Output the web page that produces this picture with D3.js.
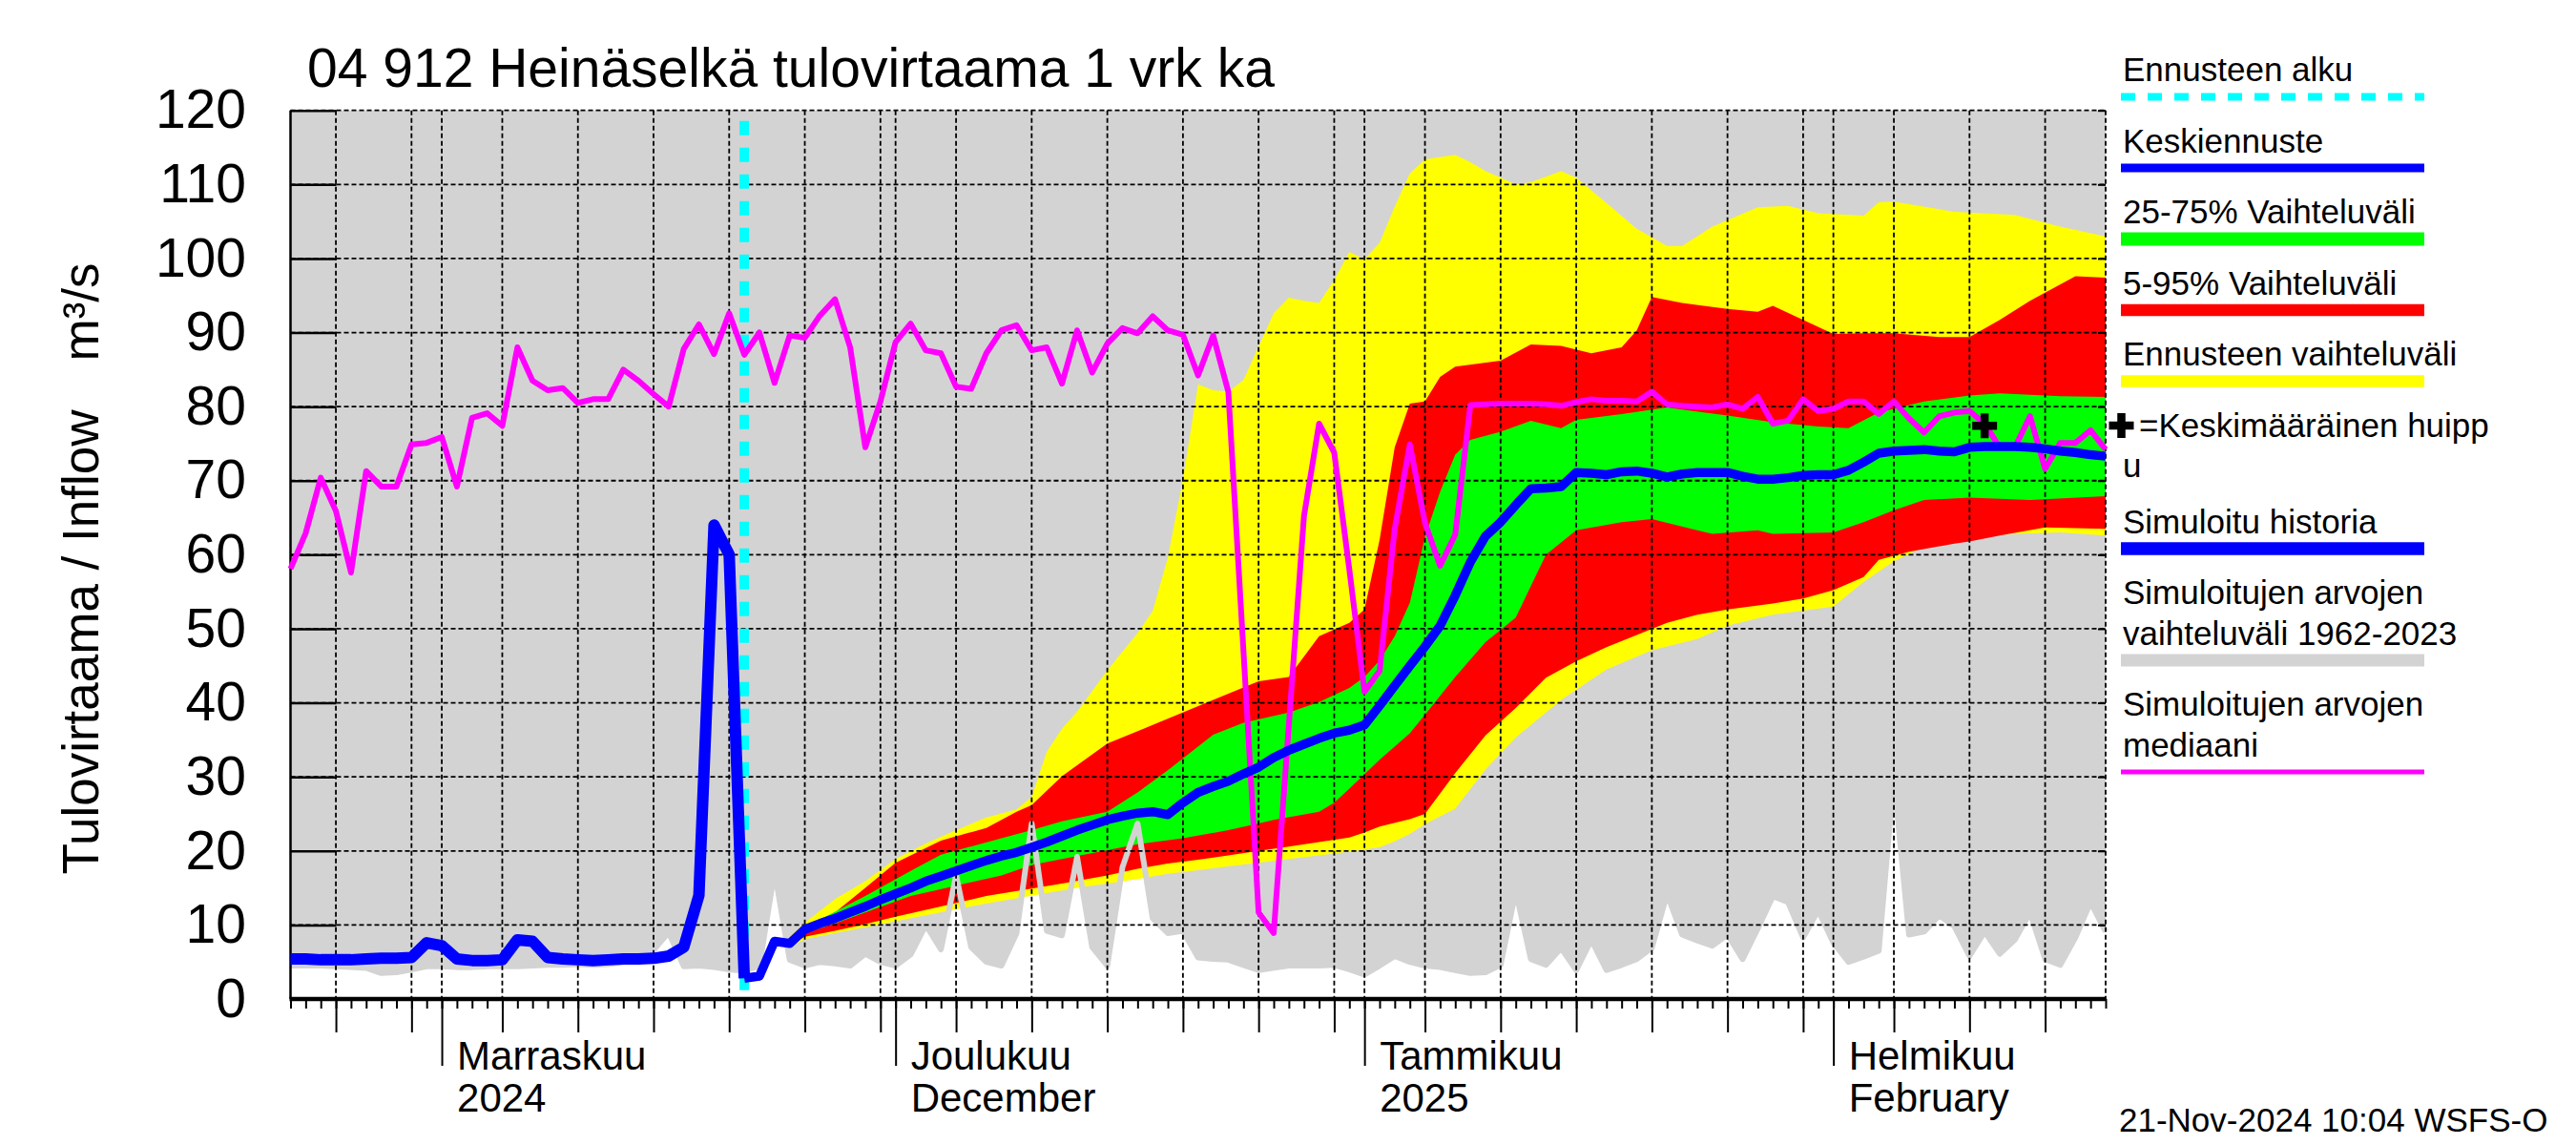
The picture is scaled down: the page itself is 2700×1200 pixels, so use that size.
<!DOCTYPE html>
<html>
<head>
<meta charset="utf-8">
<script src="https://cdn.jsdelivr.net/npm/d3@7"></script>
<style>
  body { margin: 0; background: #fff; }
  svg { display: block; }
  text { font-family: "Liberation Sans", Arial, Helvetica, sans-serif; fill: #000; }
</style>
</head>
<body>
<svg id="chart" width="2700" height="1200"></svg>
<script>
(function(){
	'use strict';

	// ---- data (daily values, m3/s) ----
	var historyStart = Date.UTC(2024, 9, 22);   // 22.10.2024 = day 0
	var forecastStart = Date.UTC(2024, 10, 21); // 21.11.2024 = day 30
	var axisEnd = Date.UTC(2025, 1, 19);        // day 120

	// Simuloitu historia, day 0..30
	var historyFlow = [5.4, 5.4, 5.3, 5.3, 5.3, 5.4, 5.5, 5.5, 5.6, 7.6,
		7.2, 5.4, 5.2, 5.2, 5.3, 8.0, 7.8, 5.6, 5.4, 5.3,
		5.2, 5.3, 5.4, 5.4, 5.5, 5.8, 7.0, 14, 64, 60, 2.8];

	// Keskiennuste, day 30..120
	var forecastMedian = [2.8, 3.1, 7.8, 7.5, 9.4, 10.2, 10.9, 11.7, 12.5, 13.4,
		14.2, 15.0, 15.9, 16.6, 17.3, 18.0, 18.7, 19.3, 19.8, 20.5,
		21.2, 22.0, 22.8, 23.5, 24.2, 24.7, 25.1, 25.3, 24.9, 26.5,
		27.9, 28.7, 29.4, 30.4, 31.3, 32.6, 33.6, 34.4, 35.2, 35.9,
		36.3, 37.0, 39.6, 42.3, 45.0, 47.6, 50.4, 54.5, 59.0, 62.5,
		64.4, 66.7, 68.9, 69.0, 69.2, 71.1, 71.0, 70.8, 71.2, 71.3,
		71.0, 70.5, 70.9, 71.1, 71.1, 71.1, 70.6, 70.2, 70.2, 70.4,
		70.7, 70.8, 70.8, 71.4, 72.5, 73.7, 74.0, 74.1, 74.2, 74.0,
		73.9, 74.5, 74.6, 74.6, 74.6, 74.5, 74.3, 74.0, 73.8, 73.5, 73.3];

	// Simuloitujen arvojen mediaani, day 0..120
	var simMedian = [58.1, 62.9, 70.4, 65.9, 57.6, 71.3, 69.2, 69.2, 74.9, 75.1,
		75.9, 69.2, 78.5, 79.1, 77.4, 88, 83.5, 82.2, 82.5, 80.5,
		81, 81, 85, 83.5, 81.7, 80, 87.8, 91.1, 87.1, 92.6,
		87, 90, 83.2, 89.6, 89.3, 92.3, 94.5, 88, 74.5, 80.7,
		88.7, 91.2, 87.6, 87.2, 82.7, 82.4, 87.2, 90.3, 91, 87.6,
		88, 83.1, 90.3, 84.6, 88.5, 90.6, 89.9, 92.2, 90.3, 89.7,
		84.2, 89.6, 82, 47, 11.7, 8.9, 37, 65.2, 77.7, 73.8,
		58, 41.5, 44.3, 63.5, 74.9, 64.3, 58.5, 62.7, 80.2, 80.3,
		80.4, 80.4, 80.4, 80.3, 80.1, 80.6, 81, 80.8, 80.8, 80.7,
		82, 80.3, 80.1, 80, 79.9, 80.3, 79.7, 81.3, 77.7, 78.1,
		81, 79.4, 79.7, 80.7, 80.7, 79, 80.7, 78.4, 76.5, 78.7,
		79.2, 79.4, 77.7, 74.5, 74.5, 78.7, 71.6, 75.1, 75.1, 76.8, 74.2];

	// lower edge of simulated range 1962-2023, day 0..120 (upper edge is above the chart)
	var simMin = [4.5, 4.5, 4.5, 4.4, 4.3, 4.2, 3.5, 3.6, 4.0, 4.4,
		4.4, 4.3, 4.3, 4.4, 4.4, 4.4, 4.5, 4.6, 4.6, 4.7,
		4.6, 4.7, 5.0, 5.5, 6.6, 9.0, 4.4, 4.5, 4.3, 4.0,
		3.8, 4.5, 17.3, 5.3, 4.5, 5.0, 4.8, 4.5, 6.1, 5.0,
		4.5, 6.0, 10.0, 6.7, 16.7, 7.0, 5.0, 4.5, 8.9, 23.7,
		9.2, 8.6, 19.2, 7.0, 4.5, 17.8, 23.7, 10.9, 8.9, 9.2,
		5.6, 5.4, 5.3, 4.6, 3.9, 4.2, 4.5, 4.5, 4.5, 4.6,
		4.0, 3.3, 4.5, 5.8, 5.0, 4.5, 4.3, 3.9, 3.5, 3.6,
		4.6, 14.6, 5.4, 4.6, 6.9, 3.9, 8.0, 3.9, 4.6, 5.4,
		6.9, 14.2, 8.7, 7.9, 7.2, 8.7, 5.4, 9.5, 13.9, 13.1,
		8.3, 12.0, 7.6, 5.0, 5.7, 6.5, 30, 8.7, 9.1, 11.3,
		9.8, 5.8, 9.1, 6.1, 8.0, 11.7, 5.4, 4.6, 8.3, 13.1, 9.1];

	// forecast bands as [day, value]
	var rangeUpper = [[30,2.8],[31,3.1],[32,7.8],[33,8.4],[34,10.3],[36,13.5],[38,15.9],[40,18.9],[42,21.0],
		[44,22.8],[46,24.5],[48,25.6],[49,27.3],[50,33.4],[51,36.5],[52,38.8],[54,44.4],[56,49.4],[57,52.4],
		[58,59.6],[59,70.2],[60,83],[61,82.2],[62,82],[63,83.6],[64,88.1],[65,92.6],[66,94.7],[67,94.3],
		[68,94],[69,97.1],[70,100.9],[71,99.9],[72,102.1],[73,107],[74,111.5],[75,113.4],[77,114],[78,113],
		[79,111.8],[81,110],[82,110.3],[84,111.8],[85,110.9],[87,107.5],[89,104],[91,101.7],[92,101.7],
		[94,104.3],[97,106.9],[99,107.1],[101,106.1],[104,105.8],[105,107.6],[106,107.7],[110,106.3],
		[114,105.9],[117,104.3],[120,103]];
	var rangeLower = [[30,2.8],[31,3.1],[32,7.8],[33,7.0],[34,8.1],[36,8.9],[38,9.7],[40,10.5],[42,11.3],
		[44,12.1],[46,12.9],[48,13.6],[50,14.3],[52,15.0],[54,15.6],[56,16.2],[58,16.9],[60,17.4],[62,17.9],
		[64,18.4],[66,18.9],[68,19.4],[70,19.9],[72,20.5],[73,21.3],[74,22.3],[75,23.6],[77,25.7],[79,31],
		[81,35.3],[84,40.4],[87,44.5],[90,47.1],[93,48.6],[95,50.4],[98,51.9],[102,53],[104,56.3],[106,59.1],
		[108,61.1],[111,62.4],[114,62.8],[117,63],[120,62.6]];
	var p95 = [[30,2.8],[31,3.1],[32,7.8],[33,8.2],[34,9.8],[36,11.7],[38,15.0],[40,18.4],[43,21.4],[46,23.1],
		[48,25.3],[49,26.2],[51,30.1],[54,34.5],[57,37],[61,40.4],[64,42.9],[66,43.5],[68,49],[70,50.8],
		[71,52.6],[72,62],[73,74.5],[74,80.4],[75,80.7],[76,84],[77,85.4],[80,86.2],[82,88.4],[84,88.2],
		[86,87.2],[88,88],[89,90.3],[90,94.8],[92,94],[95,93.2],[97,92.8],[98,93.6],[100,91.7],[102,89.8],
		[104,89.9],[106,89.9],[109,89.4],[111,89.4],[113,91.7],[115,94.3],[118,97.6],[120,97.4]];
	var p05 = [[30,2.8],[31,3.1],[32,7.8],[33,7.2],[34,8.4],[36,9.2],[38,10.1],[40,11.1],[43,12.5],[46,13.9],
		[49,14.9],[51,15.6],[54,16.7],[56,17.6],[58,18.3],[60,18.8],[62,19.4],[64,20.0],[66,20.6],[68,21.2],
		[70,21.8],[71,22.5],[72,23.3],[74,24.3],[75,25.0],[77,30.5],[79,35.6],[81,39.3],[83,43.4],[85,45.6],
		[87,47.5],[91,50.8],[93,51.9],[95,52.6],[98,53.4],[100,54.1],[102,55.2],[104,57],[105,59.3],
		[107,60.4],[110,61.5],[111,61.8],[113,62.6],[116,63.7],[120,63.5]];
	var p75 = [[30,2.8],[31,3.1],[32,7.8],[33,7.9],[34,9.6],[36,11.8],[38,13.9],[41,17.3],[43,19.5],[47,21.7],
		[49,22.8],[51,24],[54,25.3],[56,27.9],[58,30.9],[61,35.7],[63,37.3],[66,38.7],[68,40.1],[70,42],
		[71,43.5],[72,45.7],[73,49],[74,53.5],[75,62.4],[76,68.5],[77,73.5],[78,75.5],[80,76.6],[82,78.1],
		[84,77.1],[85,78.2],[88,79],[91,79.9],[92,79.6],[95,78.8],[98,77.9],[101,77.3],[103,77.1],[105,79.2],
		[108,80.7],[111,81.5],[113,81.8],[117,81.4],[120,81.3]];
	var p25 = [[30,2.8],[31,3.1],[32,7.8],[33,7.4],[34,8.9],[36,10.2],[38,11.7],[41,13.9],[44,15.3],[47,16.7],
		[49,18.1],[51,18.9],[54,20.1],[56,20.9],[59,21.7],[62,22.8],[64,23.7],[65,24.2],[68,25.3],[69,26.5],
		[70,28.4],[72,32.3],[74,35.9],[75,38.4],[77,43.5],[79,48.2],[81,51.5],[83,60],[85,63.3],[88,64.4],
		[90,64.8],[94,62.8],[97,63.3],[98,62.8],[102,63],[104,64.4],[106,66],[108,67.4],[111,67.7],[115,67.4],
		[120,67.9]];

	// Keskimääräinen huippu: [day, value]
	var meanPeak = [112, 77.4];

	var yTicks = [0, 10, 20, 30, 40, 50, 60, 70, 80, 90, 100, 110, 120];
	var monthLabels = [
		{ date: Date.UTC(2024, 10, 1), lines: ['Marraskuu', '2024'] },
		{ date: Date.UTC(2024, 11, 1), lines: ['Joulukuu', 'December'] },
		{ date: Date.UTC(2025, 0, 1), lines: ['Tammikuu', '2025'] },
		{ date: Date.UTC(2025, 1, 1), lines: ['Helmikuu', 'February'] }
	];
	var titleText = '04 912 Heinäselkä tulovirtaama 1 vrk ka';
	var stampText = '21-Nov-2024 10:04 WSFS-O';
	var legendItems = [
		{ lines: ['Ennusteen alku'], color: '#00ffff', width: 8, dash: '15,13' },
		{ lines: ['Keskiennuste'], color: '#0000ff', width: 9 },
		{ lines: ['25-75% Vaihteluväli'], color: '#00ff00', width: 14 },
		{ lines: ['5-95% Vaihteluväli'], color: '#ff0000', width: 12.5 },
		{ lines: ['Ennusteen vaihteluväli'], color: '#ffff00', width: 12.5 },
		{ lines: ['=Keskimääräinen huipp', 'u'], plus: true },
		{ lines: ['Simuloitu historia'], color: '#0000ff', width: 13.5 },
		{ lines: ['Simuloitujen arvojen', 'vaihteluväli 1962-2023'], color: '#d3d3d3', width: 13 },
		{ lines: ['Simuloitujen arvojen', 'mediaani'], color: '#ff00ff', width: 5 }
	];

	// ---- layout ----
	var plotL = 304.5, plotR = 2207, plotT = 115.7, plotB = 1047;
	var grey = '#d3d3d3';

	var svg = d3.select('#chart');
	var x = d3.scaleUtc().domain([historyStart, axisEnd]).range([plotL, plotR]);
	var y = d3.scaleLinear().domain([0, 120]).range([plotB, plotT]);

	function dayDate(start, i){ return d3.utcDay.offset(new Date(start), i); }

	var lineFrom = function(start){
		return d3.line()
			.x(function(d, i){ return x(dayDate(start, i)); })
			.y(function(d){ return y(d); });
	};
	var pairLine = d3.line()
		.x(function(d){ return x(dayDate(historyStart, d[0])); })
		.y(function(d){ return y(d[1]); });

	// simulated range: grey everywhere above its lower edge
	svg.append('rect')
		.attr('x', plotL).attr('y', plotT)
		.attr('width', plotR - plotL).attr('height', plotB - plotT)
		.attr('fill', grey);

	svg.append('path')
		.datum(simMin)
		.attr('d', d3.area()
			.x(function(d, i){ return x(dayDate(historyStart, i)); })
			.y0(y(0))
			.y1(function(d){ return y(d); }))
		.attr('fill', '#fff');

	function band(upper, lower, color){
		var pts = upper.concat(lower.slice().reverse());
		svg.append('path').attr('d', pairLine(pts) + 'Z').attr('fill', color);
	}
	band(rangeUpper, rangeLower, '#ffff00');
	band(p95, p05, '#ff0000');
	band(p75, p25, '#00ff00');

	svg.append('path')
		.datum(simMin)
		.attr('d', lineFrom(historyStart))
		.attr('fill', 'none').attr('stroke', grey).attr('stroke-width', 6)
		.attr('stroke-linejoin', 'round');

	// grid
	var grid = svg.append('g')
		.attr('stroke', '#000').attr('stroke-width', 1.8).attr('stroke-dasharray', '5,3');
	yTicks.filter(function(v){ return v > 0; }).forEach(function(v){
		grid.append('line').attr('x1', plotL).attr('x2', plotR).attr('y1', y(v)).attr('y2', y(v));
	});
	var allDays = d3.utcDay.range(new Date(historyStart), new Date(axisEnd + 1));
	var gridDays = allDays.filter(function(d){ return [1, 5, 10, 15, 20, 25, 30].indexOf(d.getUTCDate()) >= 0; });
	gridDays.forEach(function(d){
		grid.append('line').attr('x1', x(d)).attr('x2', x(d)).attr('y1', plotT).attr('y2', plotB);
	});
	grid.append('line').attr('x1', plotR).attr('x2', plotR).attr('y1', plotT).attr('y2', plotB);

	// y axis
	var gy = svg.append('g')
		.attr('transform', 'translate(' + plotL + ',0)')
		.call(d3.axisLeft(y).tickValues(yTicks).tickSize(-48).tickPadding(46.5).tickFormat(d3.format('d')));
	gy.select('.domain').remove();
	gy.selectAll('line').attr('stroke', '#000').attr('stroke-width', 2.5);
	gy.selectAll('text').attr('font-size', 57).attr('font-family', '"Liberation Sans", Arial, sans-serif');

	var gyr = svg.append('g')
		.attr('transform', 'translate(' + plotR + ',0)')
		.call(d3.axisRight(y).tickValues(yTicks).tickSize(-8).tickFormat(''));
	gyr.select('.domain').remove();
	gyr.selectAll('line').attr('stroke', '#000').attr('stroke-width', 2);

	svg.append('line').attr('x1', plotL).attr('x2', plotL).attr('y1', plotT).attr('y2', plotB)
		.attr('stroke', '#000').attr('stroke-width', 2.5);

	// x axis: daily, 5-day and month ticks
	var fiveDays = allDays.filter(function(d){ return [5, 10, 15, 20, 25, 30].indexOf(d.getUTCDate()) >= 0; });
	var monthDays = allDays.filter(function(d){ return d.getUTCDate() === 1; });
	[[allDays, 10], [fiveDays, 35], [monthDays, 70]].forEach(function(t){
		var g = svg.append('g')
			.attr('transform', 'translate(0,' + plotB + ')')
			.call(d3.axisBottom(x).tickValues(t[0]).tickSize(t[1]).tickFormat(''));
		g.select('.domain').remove();
		g.selectAll('line').attr('stroke', '#000').attr('stroke-width', 2);
	});
	svg.append('line').attr('x1', plotL - 1).attr('x2', plotR).attr('y1', plotB).attr('y2', plotB)
		.attr('stroke', '#000').attr('stroke-width', 4.5);

	monthLabels.forEach(function(m){
		m.lines.forEach(function(t, i){
			svg.append('text')
				.attr('x', x(new Date(m.date)) + 16)
				.attr('y', 1121 + i * 44)
				.attr('font-size', 42)
				.text(t);
		});
	});

	// forecast start
	svg.append('line')
		.attr('x1', x(new Date(forecastStart))).attr('x2', x(new Date(forecastStart)))
		.attr('y1', plotT + 11).attr('y2', plotB)
		.attr('stroke', '#00ffff').attr('stroke-width', 10).attr('stroke-dasharray', '15,13');

	// lines
	svg.append('path').datum(simMedian).attr('d', lineFrom(historyStart))
		.attr('fill', 'none').attr('stroke', '#ff00ff').attr('stroke-width', 6).attr('stroke-linejoin', 'round');
	svg.append('path').datum(historyFlow).attr('d', lineFrom(historyStart))
		.attr('fill', 'none').attr('stroke', '#0000ff').attr('stroke-width', 12).attr('stroke-linejoin', 'round');
	svg.append('path').datum(forecastMedian).attr('d', lineFrom(forecastStart))
		.attr('fill', 'none').attr('stroke', '#0000ff').attr('stroke-width', 9.5).attr('stroke-linejoin', 'round');

	function plus(cx, cy){
		svg.append('path')
			.attr('d', 'M' + (cx - 13) + ',' + cy + 'H' + (cx + 13) + 'M' + cx + ',' + (cy - 13) + 'V' + (cy + 13))
			.attr('stroke', '#000').attr('stroke-width', 8.5).attr('fill', 'none');
	}
	plus(x(dayDate(historyStart, meanPeak[0])), y(meanPeak[1]));

	// titles
	svg.append('text').attr('x', 322).attr('y', 91).attr('font-size', 57).text(titleText);
	svg.append('text').attr('transform', 'translate(103,673) rotate(-90)')
		.attr('text-anchor', 'middle').attr('font-size', 53).text('Tulovirtaama / Inflow');
	svg.append('text').attr('transform', 'translate(103,327) rotate(-90)')
		.attr('text-anchor', 'middle').attr('font-size', 53).text('m³/s');
	svg.append('text').attr('x', 2221).attr('y', 1186).attr('font-size', 35).text(stampText);

	// legend
	var cursor = 85;
	legendItems.forEach(function(item){
		var base = cursor;
		item.lines.forEach(function(t, i){
			svg.append('text')
				.attr('x', item.plus && i === 0 ? 2242 : 2225)
				.attr('y', base + i * 42.5)
				.attr('font-size', 35)
				.text(t);
		});
		var last = base + (item.lines.length - 1) * 42.5;
		if (item.plus) {
			plus(2223.5, base - 11.5);
			cursor = last + 58.5;
		} else {
			var ly = last + 16.5;
			svg.append('line').attr('x1', 2223).attr('x2', 2541).attr('y1', ly).attr('y2', ly)
				.attr('stroke', item.color).attr('stroke-width', item.width)
				.attr('stroke-dasharray', item.dash || null);
			cursor = ly + 58;
		}
	});

})();
</script>
</body>
</html>
